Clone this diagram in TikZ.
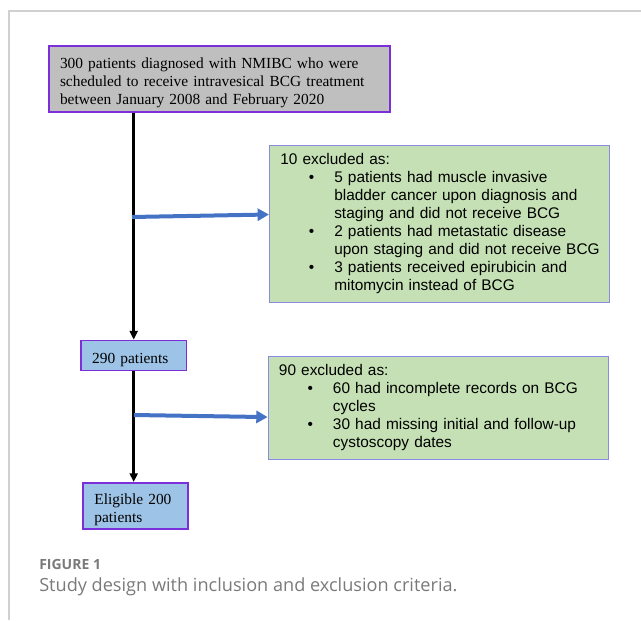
\documentclass[tikz,border=0pt]{standalone}
\usepackage{fontspec}
\setmainfont{Liberation Serif}
\newfontfamily\arialfont{Liberation Sans}
\newfontfamily\captionfont{Open Sans}
\usepackage{enumitem}
\usepackage{xcolor}
\usetikzlibrary{arrows.meta,positioning,calc}
\tikzset{
  flowarrow/.style={-{Triangle[length=6.5pt,width=6pt]}, line width=1.9pt, draw=black},
  exclarrow/.style={-{Triangle[length=8.5pt,width=9pt]}, line width=3pt, draw=ArrowBlue},
  frameline/.style={draw=FrameGray, line width=0.8pt}
}
\definecolor{BoxPurple}{HTML}{7A2FD8}
\definecolor{BoxGray}{HTML}{BFBFBF}
\definecolor{BoxBlue}{HTML}{9DC3E6}
\definecolor{ExclGreen}{HTML}{C5E0B4}
\definecolor{ExclBorder}{HTML}{8A8AE0}
\definecolor{ArrowBlue}{HTML}{4472C4}
\definecolor{FrameGray}{HTML}{D0D0D0}
\definecolor{CaptionGray}{HTML}{7A7A7A}
\newcommand{\exclfont}{\arialfont\fontsize{11.55pt}{13.5pt}\selectfont}
\newcommand{\toppad}{\rule{0pt}{14.5pt}}% pushes the serif text down a little
\setlist[itemize]{nosep, leftmargin=40.5pt, rightmargin=-20pt, labelsep=15pt, label=\textbullet}

\begin{document}
\begin{tikzpicture}[
  x=0.75pt, y=-0.75pt,
  serifbox/.style={draw=BoxPurple, line width=1.4pt, align=left, inner ysep=2pt,
    font=\fontsize{11.55pt}{13.5pt}\selectfont},
  startbox/.style={serifbox, fill=BoxGray, text width=239.25pt, inner xsep=8.25pt, minimum height=49.5pt},
  countbox/.style={serifbox, fill=BoxBlue, inner xsep=8.5pt},
  exclbox/.style={draw=ExclBorder, line width=1pt, fill=ExclGreen, align=left,
    text width=239pt, inner xsep=8pt, inner ysep=4pt, font=\exclfont},
  captext/.style={anchor=west, inner sep=0pt, text=CaptionGray}
]
\useasboundingbox (0,0) rectangle (641,620);

% page frame
\draw[frameline] (641,11) -- (9,11) -- (9,620);

\node[startbox] at (219.5,78.7) (start) {\toppad 300 patients diagnosed with NMIBC who were\\
  scheduled to receive intravesical BCG treatment\\between January 2008 and February 2020};
\node[countbox, text width=62.25pt, minimum height=22.5pt] at (133.7,355.5) (p290) {\toppad 290 patients};
\node[countbox, text width=61.5pt, minimum height=34.5pt] at (135.4,505.9) (eligible) {\toppad Eligible 200\\patients};

\node[exclbox, minimum height=117.75pt] at (439.6,224) (excl1) {10 excluded as:
  \begin{itemize}
    \item 5 patients had muscle invasive\newline bladder cancer upon diagnosis and\newline staging and did not receive BCG
    \item 2 patients had metastatic disease\newline upon staging and did not receive BCG
    \item 3 patients received epirubicin and\newline mitomycin instead of BCG
  \end{itemize}};
\node[exclbox, minimum height=77.25pt] at (438.3,407.7) (excl2) {90 excluded as:
  \begin{itemize}
    \item 60 had incomplete records on BCG\newline cycles
    \item 30 had missing initial and follow-up\newline cystoscopy dates
  \end{itemize}\vspace*{12pt}};

% main flow
\draw[flowarrow] (start.south -| p290.north) -- (p290.north);
\draw[flowarrow] (p290.south) -- (p290.south |- eligible.north);

% exclusions branch off the flow line
\coordinate (branch1) at (132,217);
\coordinate (branch2) at (134,415);
\draw[exclarrow] (branch1) -- ($(excl1.north west)!0.44!(excl1.south west)$);
\draw[exclarrow] (branch2) -- ($(excl2.north west)!0.59!(excl2.south west)$);

% caption
\node[captext, font=\captionfont\bfseries\fontsize{10.5pt}{12pt}\selectfont] at (39,564) (figlabel) {FIGURE 1};
\node[captext, font=\captionfont\fontsize{13.6pt}{15pt}\selectfont] at (39,587) (figtext) {Study design with inclusion and exclusion criteria.};
\end{tikzpicture}
\end{document}
